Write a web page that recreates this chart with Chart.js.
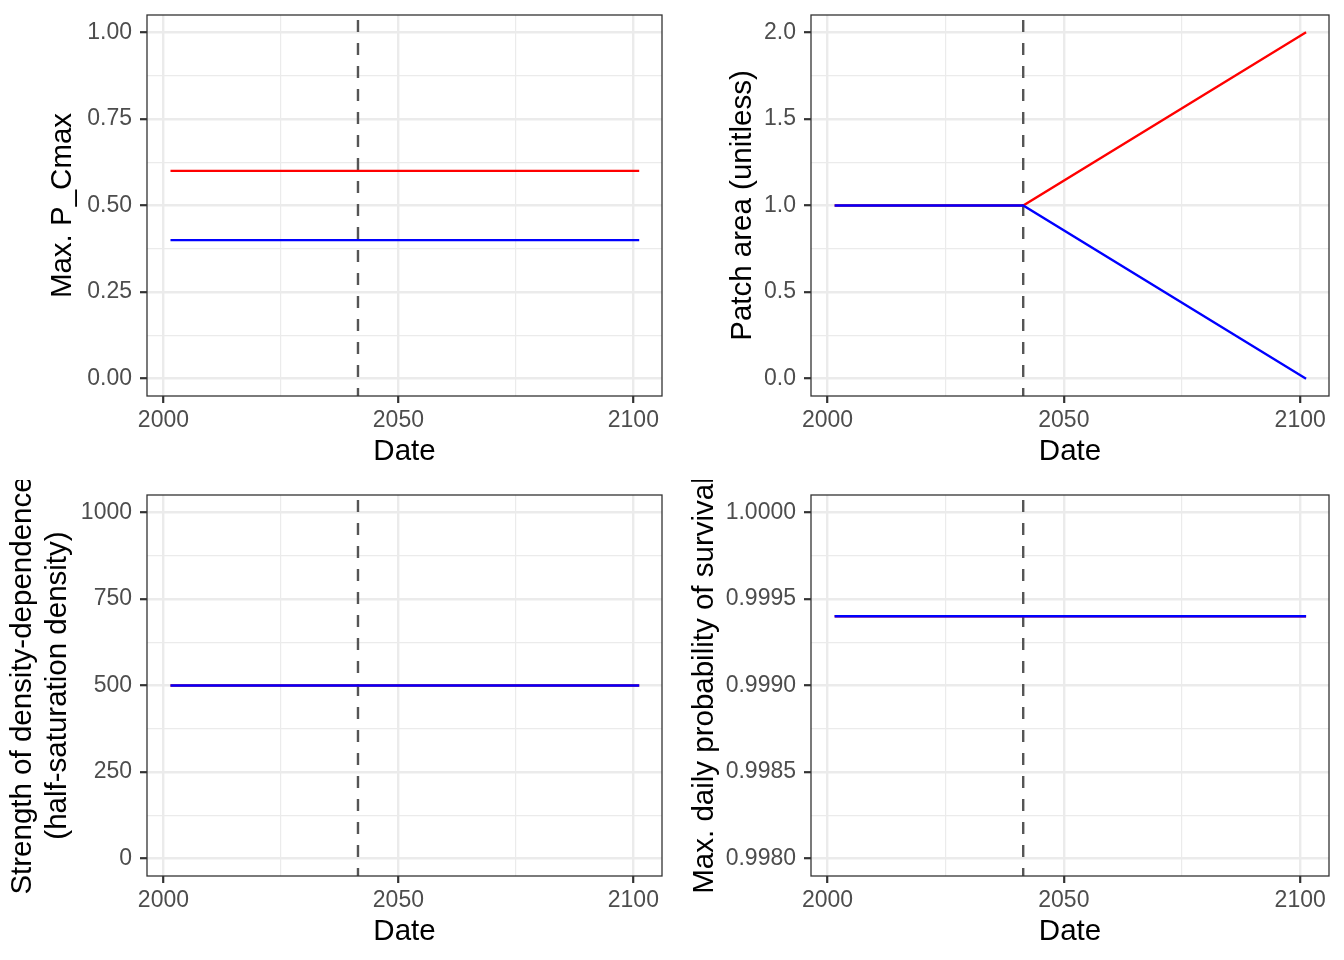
<!DOCTYPE html>
<html>
<head>
<meta charset="utf-8">
<script src="https://cdn.jsdelivr.net/npm/chart.js@4.4.1/dist/chart.umd.min.js"></script>
<style>
body { margin: 0; background: #fff; }
#wrap { position: relative; width: 1344px; height: 960px; }
canvas { position: absolute; }
</style>
</head>
<body>
<div id="wrap">
  <canvas id="pcmax" width="672" height="480" style="left:0;top:0"></canvas>
  <canvas id="area" width="672" height="480" style="left:672px;top:0"></canvas>
  <canvas id="dd" width="672" height="480" style="left:0;top:480px"></canvas>
  <canvas id="surv" width="672" height="480" style="left:672px;top:480px"></canvas>
</div>
<script>
// dates (decimal years) of the series break points
const years = [2001.5, 2041.4, 2101.25];
const changeYear = 2041.4;
const xTicks = [2000, 2050, 2100];
const xMinor = [2025, 2075];

// Max. P_Cmax
const pcmaxRed = [0.6, 0.6, 0.6];
const pcmaxBlue = [0.4, 0.4, 0.4];
const pcmaxTicks = [0, 0.25, 0.5, 0.75, 1];
const pcmaxMinor = [0.125, 0.375, 0.625, 0.875];

// Patch area
const areaRed = [1, 1, 2];
const areaBlue = [1, 1, 0];
const areaTicks = [0, 0.5, 1, 1.5, 2];
const areaMinor = [0.25, 0.75, 1.25, 1.75];

// density dependence
const ddRed = [500, 500, 500];
const ddBlue = [500, 500, 500];
const ddTicks = [0, 250, 500, 750, 1000];
const ddMinor = [125, 375, 625, 875];

// daily survival
const survRed = [0.9994, 0.9994, 0.9994];
const survBlue = [0.9994, 0.9994, 0.9994];
const survTicks = [0.998, 0.9985, 0.999, 0.9995, 1.0];
const survMinor = [0.99825, 0.99875, 0.99925, 0.99975];

Chart.defaults.font.family = "'Liberation Sans', Arial, Helvetica, sans-serif";

function near(list, v) {
  return list.some(t => Math.abs(t - v) < 1e-9);
}

const panelBorder = {
  id: 'panelBorder',
  afterDatasetsDraw(chart) {
    const { ctx, chartArea: a } = chart;
    ctx.save();
    ctx.strokeStyle = '#333333';
    ctx.lineWidth = 1.3;
    ctx.strokeRect(a.left, a.top, a.right - a.left, a.bottom - a.top);
    ctx.restore();
  }
};

function makeChart(id, o) {
  const toXY = vals => years.map((x, i) => ({ x: x, y: vals[i] }));
  const allY = o.ticks.concat(o.minor).sort((a, b) => a - b);
  const allX = xTicks.concat(xMinor).sort((a, b) => a - b);
  new Chart(document.getElementById(id), {
    type: 'line',
    data: {
      datasets: [
        { data: [{ x: changeYear, y: o.max }, { x: changeYear, y: o.min }],
          borderColor: '#555555', borderWidth: 2.4, borderDash: [12, 11], borderDashOffset: 18, order: 3 },
        { data: toXY(o.red), borderColor: '#FF0000', borderWidth: 2.3, order: 2 },
        { data: toXY(o.blue), borderColor: '#0000FF', borderWidth: 2.3, order: 1 }
      ]
    },
    options: {
      responsive: false,
      animation: false,
      events: [],
      elements: { point: { radius: 0 }, line: { tension: 0, fill: false } },
      layout: { padding: { top: 15, right: o.padRight, left: 0, bottom: 0 } },
      plugins: { legend: { display: false }, tooltip: { enabled: false } },
      scales: {
        x: {
          type: 'linear',
          min: 1996.5,
          max: 2106.1,
          afterBuildTicks: s => { s.ticks = allX.map(v => ({ value: v })); },
          afterFit: s => { s.height = 84; s.paddingLeft = 0; s.paddingRight = 0; },
          border: { display: false },
          grid: {
            color: '#EBEBEB',
            lineWidth: c => near(xTicks, c.tick.value) ? 2.4 : 1.2,
            tickLength: 7,
            tickWidth: 2.2,
            tickColor: c => near(xTicks, c.tick.value) ? '#333333' : 'rgba(0,0,0,0)'
          },
          ticks: {
            autoSkip: false, maxRotation: 0, padding: 4,
            color: '#4D4D4D', font: { size: 23 },
            callback: v => near(xTicks, v) ? String(v) : ''
          },
          title: { display: true, text: 'Date', color: '#000000', font: { size: 29.5 },
                   padding: { top: 0, bottom: 10 } }
        },
        y: {
          type: 'linear',
          min: o.min,
          max: o.max,
          afterBuildTicks: s => { s.ticks = allY.map(v => ({ value: v })); },
          afterFit: s => { s.width = o.axisWidth; s.paddingTop = 0; s.paddingBottom = 0; },
          border: { display: false },
          grid: {
            color: '#EBEBEB',
            lineWidth: c => near(o.ticks, c.tick.value) ? 2.4 : 1.2,
            tickLength: 7,
            tickWidth: 2.2,
            tickColor: c => near(o.ticks, c.tick.value) ? '#333333' : 'rgba(0,0,0,0)'
          },
          ticks: {
            autoSkip: false, padding: 8,
            color: '#4D4D4D', font: { size: 23 },
            callback: v => near(o.ticks, v) ? o.fmt(v) : ''
          },
          title: { display: true, text: o.title, color: '#000000', font: { size: 29.5 },
                   padding: { top: o.titlePad, bottom: 0 } }
        }
      }
    },
    plugins: [panelBorder]
  });
}

makeChart('pcmax', {
  red: pcmaxRed, blue: pcmaxBlue, ticks: pcmaxTicks, minor: pcmaxMinor,
  min: -0.05, max: 1.05, fmt: v => v.toFixed(2),
  title: 'Max. P_Cmax', titlePad: 45, axisWidth: 147, padRight: 10
});
makeChart('area', {
  red: areaRed, blue: areaBlue, ticks: areaTicks, minor: areaMinor,
  min: -0.1, max: 2.1, fmt: v => v.toFixed(1),
  title: 'Patch area (unitless)', titlePad: 53, axisWidth: 139, padRight: 15
});
makeChart('dd', {
  red: ddRed, blue: ddBlue, ticks: ddTicks, minor: ddMinor,
  min: -50, max: 1050, fmt: v => String(v),
  title: ['Strength of density-dependence', '(half-saturation density)'], titlePad: 5, axisWidth: 147, padRight: 10
});
makeChart('surv', {
  red: survRed, blue: survBlue, ticks: survTicks, minor: survMinor,
  min: 0.9979, max: 1.0001, fmt: v => v.toFixed(4),
  title: 'Max. daily probability of survival', titlePad: 15, axisWidth: 139, padRight: 15
});
</script>
</body>
</html>
